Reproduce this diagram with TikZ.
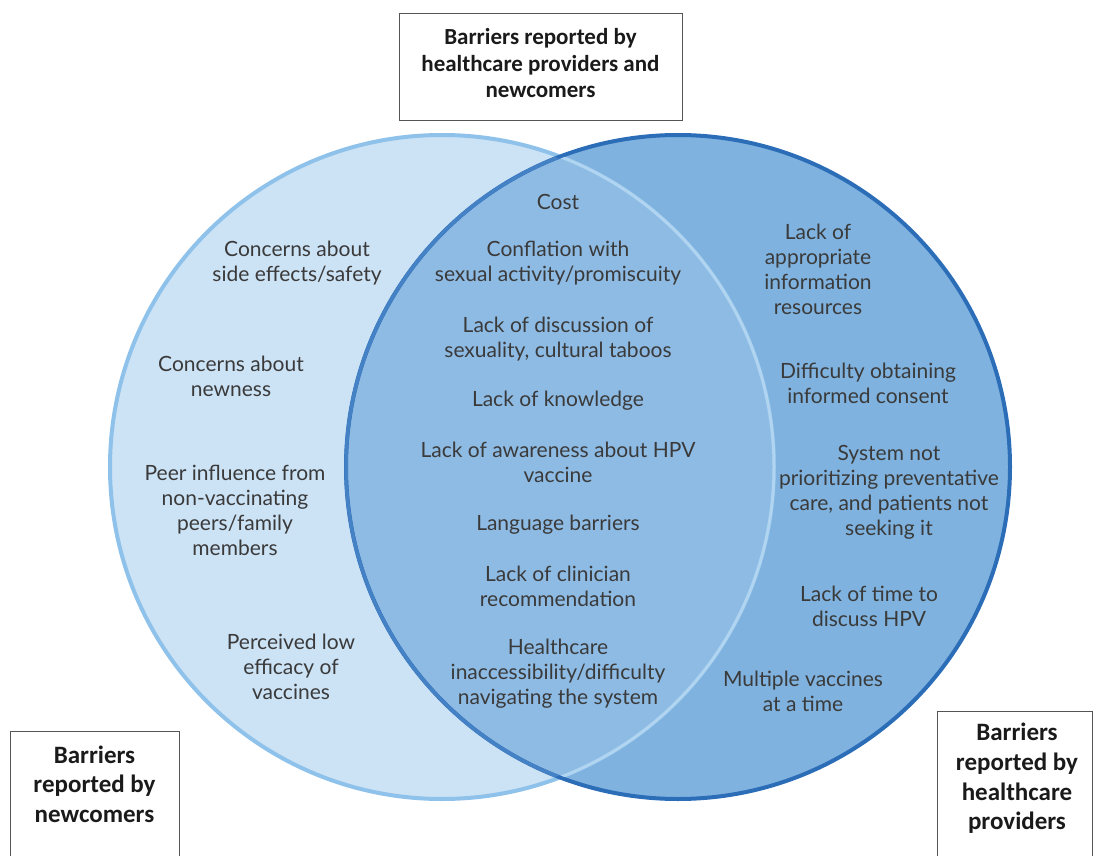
\documentclass[tikz,border=0pt]{standalone}
\usepackage{fontspec}
\setmainfont{Lato}
\newfontfamily\boxfont{Carlito}

\definecolor{newfill}{HTML}{CCE2F5}
\definecolor{newline}{HTML}{8FC2EA}
\definecolor{hcpfill}{HTML}{7FB2DE}
\definecolor{hcpline}{HTML}{2C6DB8}
\definecolor{bothfill}{HTML}{8EBBE4}
\definecolor{txtgray}{HTML}{3A3A3A}
\definecolor{hdrblack}{HTML}{1A1A1A}
\definecolor{boxline}{HTML}{555555}

\begin{document}
\begin{tikzpicture}[x=1pt,y=-1pt,
  lbl/.style={align=center,text=txtgray,inner sep=0pt,yshift=-2.5pt,
    font=\fontsize{21}{25}\selectfont},
  hdr/.style={align=center,text=hdrblack,inner sep=0pt,
    font=\boxfont\bfseries\fontsize{23}{26.5}\selectfont},
  side/.style={align=center,text=hdrblack,inner sep=0pt,
    font=\boxfont\bfseries\fontsize{25}{29.6}\selectfont},
  frame/.style={boxline,line width=1pt}]

  \useasboundingbox (0,0) rectangle (1093,856);

  \coordinate (L) at (442,467);
  \coordinate (R) at (678,467);

  % the two sets
  \fill[newfill] (L) circle[radius=332pt];
  \fill[hcpfill] (R) circle[radius=332pt];
  \begin{scope}
    \clip (L) circle[radius=332pt];
    \fill[bothfill] (R) circle[radius=332pt];
  \end{scope}
  \draw[newline,line width=4pt] (L) circle[radius=332pt];
  \draw[hcpline,line width=4pt] (R) circle[radius=332pt];
  % rims inside the overlap
  \begin{scope}
    \clip (R) circle[radius=330pt];
    \draw[newline!70!white,line width=3pt] (L) circle[radius=332pt];
  \end{scope}
  \begin{scope}
    \clip (L) circle[radius=330pt];
    \draw[hcpline!75!newline,line width=3.5pt] (R) circle[radius=332pt];
  \end{scope}

  % newcomers only
  \node[lbl] (safety)   at (297,260.5) {Concerns about\\side effects/safety};
  \node[lbl] (newness)  at (231,373.5) {Concerns about\\newness};
  \node[lbl] (peers)    at (235,507.5) {Peer influence from\\non-vaccinating\\peers/family\\members};
  \node[lbl] (efficacy) at (291,664)   {Perceived low\\efficacy of\\vaccines};

  % both groups
  \node[lbl] (cost)       at (558,199)   {Cost};
  \node[lbl] (conflation) at (558,260.5) {Conflation with\\sexual activity/promiscuity};
  \node[lbl] (taboos)     at (558,336.5) {Lack of discussion of\\sexuality, cultural taboos};
  \node[lbl] (knowledge)  at (558,398)   {Lack of knowledge};
  \node[lbl] (awareness)  at (558,459.5) {Lack of awareness about HPV\\vaccine};
  \node[lbl] (language)   at (558,522)   {Language barriers};
  \node[lbl] (clinician)  at (558,583.5) {Lack of clinician\\recommendation};
  \node[lbl] (access)     at (558,671)   {Healthcare\\inaccessibility/difficulty\\navigating the system};

  % providers only
  \node[lbl] (resources) at (818,266.5) {Lack of\\appropriate\\information\\resources};
  \node[lbl] (consent)   at (868,380.5) {Difficulty obtaining\\informed consent};
  \node[lbl] (system)    at (889,490)   {System not\\prioritizing preventative\\care, and patients not\\seeking it};
  \node[lbl] (time)      at (869,604)   {Lack of time to\\discuss HPV};
  \node[lbl] (multiple)  at (803,689)   {Multiple vaccines\\at a time};

  % headings
  \node[hdr]  (both)      at (540.5,63.5) {Barriers reported by\\healthcare providers and\\newcomers};
  \node[side] (newcomers) at (94.5,784)   {Barriers\\reported by\\newcomers};
  \node[side] (providers) at (1017,778.5) {Barriers\\reported by\\healthcare\\providers};
  \draw[frame] (399.5,14) rectangle (682,121);
  \draw[frame] (10,856) |- (179,731) -- (179,856);
  \draw[frame] (937.5,856) |- (1092.5,711) -- (1092.5,856);
\end{tikzpicture}
\end{document}
